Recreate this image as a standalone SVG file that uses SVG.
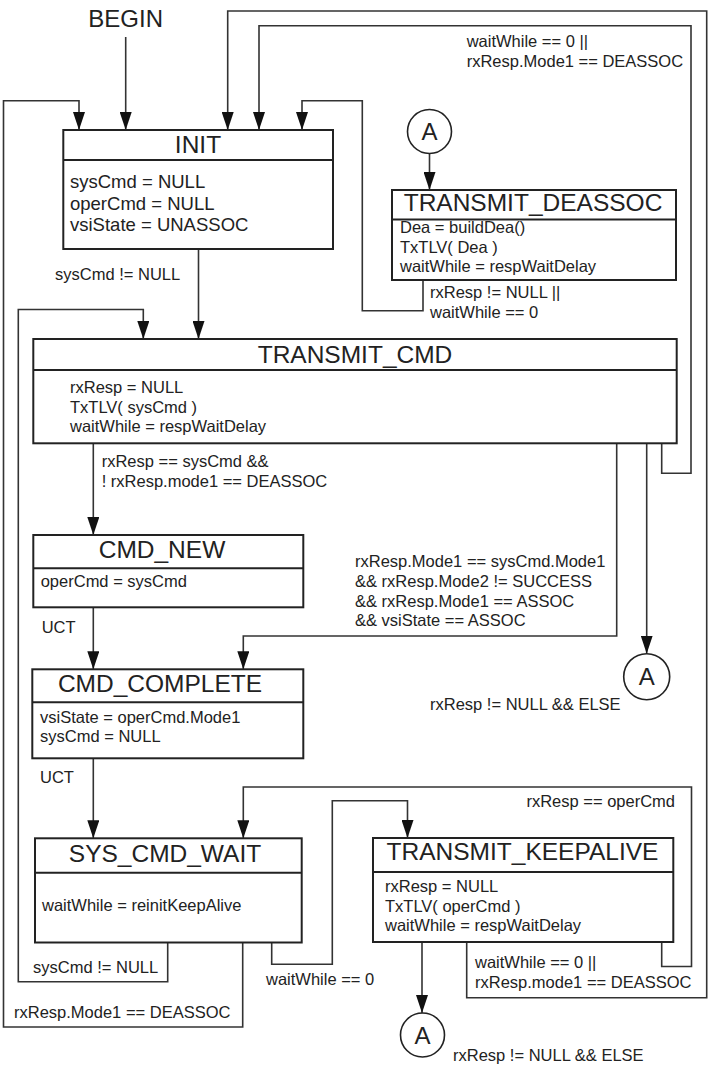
<svg xmlns="http://www.w3.org/2000/svg" width="708" height="1078" viewBox="0 0 708 1078">
<style>
text{font-family:"Liberation Sans",Arial,sans-serif;fill:#222}
.t{font-size:24.5px;text-anchor:middle}
.b{font-size:16.5px}
.bi{font-size:18.5px}
.l{font-size:16.5px}
.box{fill:#fff;stroke:#222;stroke-width:2}
.sep{stroke:#222;stroke-width:2}
.c{fill:none;stroke:#333;stroke-width:1.6}
.arr{marker-end:url(#ah)}
.circ{fill:#fff;stroke:#222;stroke-width:1.6}
.a{font-size:24px;text-anchor:middle}
</style>
<defs>
<marker id="ah" viewBox="0 0 18 12" refX="18" refY="6" markerWidth="18" markerHeight="12" markerUnits="userSpaceOnUse" orient="auto">
<path d="M0,0 L18,6 L0,12 z" fill="#111"/>
</marker>
</defs>
<rect width="708" height="1078" fill="#fff"/>

<g id="connectors">
<path class="c arr" d="M125.7,37 V130"/>
<path class="c arr" d="M242.7,942.5 V1027 H3.5 V100.7 H79 V130"/>
<path class="c arr" d="M167.7,942.5 V981.7 H18.3 V309.5 H143.3 V339"/>
<path class="c arr" d="M466.7,942 V997.7 H706.7 V11 H227.7 V130"/>
<path class="c arr" d="M661.7,443.3 V473.3 H691 V25.7 H259 V130"/>
<path class="c arr" d="M423,280 V310.7 H362.3 V100.7 H302 V130"/>
<path class="c arr" d="M429.5,153.5 V190"/>
<path class="c arr" d="M198.5,249 V339"/>
<path class="c arr" d="M93.3,443.3 V535"/>
<path class="c arr" d="M93.3,607.3 V669.3"/>
<path class="c arr" d="M616.7,443.3 V636 H243.3 V669.3"/>
<path class="c arr" d="M646.7,443.3 V653.7"/>
<path class="c arr" d="M93.3,758.3 V838.3"/>
<path class="c arr" d="M661.7,942 V966.5 H691.5 V787 H243.3 V838.3"/>
<path class="c arr" d="M271.7,942.5 V964.3 H332.3 V800.7 H407.5 V838"/>
<path class="c arr" d="M422,942 V1013"/>
<text class="l" x="55" y="280">sysCmd != NULL</text>
<text class="l" x="466.7" y="46.7">waitWhile == 0 ||</text>
<text class="l" x="466.7" y="66.7">rxResp.Mode1 == DEASSOC</text>
<text class="l" x="430" y="298">rxResp != NULL ||</text>
<text class="l" x="430" y="318">waitWhile == 0</text>
<text class="l" x="101.7" y="466.7">rxResp == sysCmd &amp;&amp;</text>
<text class="l" x="101.7" y="486.7">! rxResp.mode1 == DEASSOC</text>
<text class="l" x="355" y="566.7">rxResp.Mode1 == sysCmd.Mode1</text>
<text class="l" x="355" y="586.7">&amp;&amp; rxResp.Mode2 != SUCCESS</text>
<text class="l" x="355" y="606.7">&amp;&amp; rxResp.Mode1 == ASSOC</text>
<text class="l" x="355" y="626">&amp;&amp; vsiState == ASSOC</text>
<text class="l" x="41.7" y="633">UCT</text>
<text class="l" x="430" y="710">rxResp != NULL &amp;&amp; ELSE</text>
<text class="l" x="40" y="783">UCT</text>
<text class="l" x="675" y="806.7" text-anchor="end">rxResp == operCmd</text>
<text class="l" x="33" y="973">sysCmd != NULL</text>
<text class="l" x="266" y="985">waitWhile == 0</text>
<text class="l" x="14" y="1018">rxResp.Mode1 == DEASSOC</text>
<text class="l" x="475" y="968.3">waitWhile == 0 ||</text>
<text class="l" x="475" y="988.3">rxResp.mode1 == DEASSOC</text>
<text class="l" x="453" y="1061">rxResp != NULL &amp;&amp; ELSE</text>
</g>

<g id="begin">
<text x="125.7" y="27" font-size="24" text-anchor="middle">BEGIN</text>
</g>

<g id="init">
<rect class="box" x="63.3" y="130" width="269.7" height="119"/>
<line class="sep" x1="63.3" y1="160" x2="333" y2="160"/>
<text class="t" x="198" y="152.5">INIT</text>
<text class="bi" x="70" y="188">sysCmd = NULL</text>
<text class="bi" x="70" y="209.5">operCmd = NULL</text>
<text class="bi" x="70" y="231">vsiState = UNASSOC</text>
</g>

<g id="a-top">
<circle class="circ" cx="429.5" cy="131.5" r="22"/>
<text class="a" x="429.5" y="140">A</text>
</g>

<g id="transmit-deassoc">
<rect class="box" x="392" y="190" width="284" height="90"/>
<line class="sep" x1="392" y1="219.5" x2="676" y2="219.5"/>
<text class="t" x="533" y="211">TRANSMIT_DEASSOC</text>
<text class="b" x="400" y="233">Dea = buildDea()</text>
<text class="b" x="400" y="253">TxTLV( Dea )</text>
<text class="b" x="400" y="272">waitWhile = respWaitDelay</text>
</g>

<g id="transmit-cmd">
<rect class="box" x="33.3" y="339" width="643.4" height="104.3"/>
<line class="sep" x1="33.3" y1="370" x2="676.7" y2="370"/>
<text class="t" x="355" y="363">TRANSMIT_CMD</text>
<text class="b" x="70" y="393">rxResp = NULL</text>
<text class="b" x="70" y="413">TxTLV( sysCmd )</text>
<text class="b" x="70" y="432">waitWhile = respWaitDelay</text>
</g>

<g id="cmd-new">
<rect class="box" x="33.3" y="535" width="270" height="72.3"/>
<line class="sep" x1="33.3" y1="568.3" x2="303.3" y2="568.3"/>
<text class="t" x="162" y="558">CMD_NEW</text>
<text class="b" x="40.7" y="586.7">operCmd = sysCmd</text>
</g>

<g id="a-right">
<circle class="circ" cx="646.7" cy="676.7" r="23"/>
<text class="a" x="646.7" y="685.2">A</text>
</g>

<g id="cmd-complete">
<rect class="box" x="32.3" y="669.3" width="271" height="89"/>
<line class="sep" x1="32.3" y1="702.3" x2="303.3" y2="702.3"/>
<text class="t" x="160" y="692">CMD_COMPLETE</text>
<text class="b" x="40" y="722.7">vsiState = operCmd.Mode1</text>
<text class="b" x="40" y="741.7">sysCmd = NULL</text>
</g>

<g id="sys-cmd-wait">
<rect class="box" x="35" y="838.3" width="266.7" height="104.2"/>
<line class="sep" x1="35" y1="872.7" x2="301.7" y2="872.7"/>
<text class="t" x="165" y="861.7">SYS_CMD_WAIT</text>
<text class="b" x="42" y="910.7">waitWhile = reinitKeepAlive</text>
</g>

<g id="transmit-keepalive">
<rect class="box" x="373" y="838" width="300.3" height="104"/>
<line class="sep" x1="373" y1="872" x2="673.3" y2="872"/>
<text class="t" x="522.5" y="860">TRANSMIT_KEEPALIVE</text>
<text class="b" x="385" y="891.7">rxResp = NULL</text>
<text class="b" x="385" y="911.7">TxTLV( operCmd )</text>
<text class="b" x="385" y="930.7">waitWhile = respWaitDelay</text>
</g>

<g id="a-bottom">
<circle class="circ" cx="422.5" cy="1035" r="22"/>
<text class="a" x="422.5" y="1043.5">A</text>
</g>
</svg>
